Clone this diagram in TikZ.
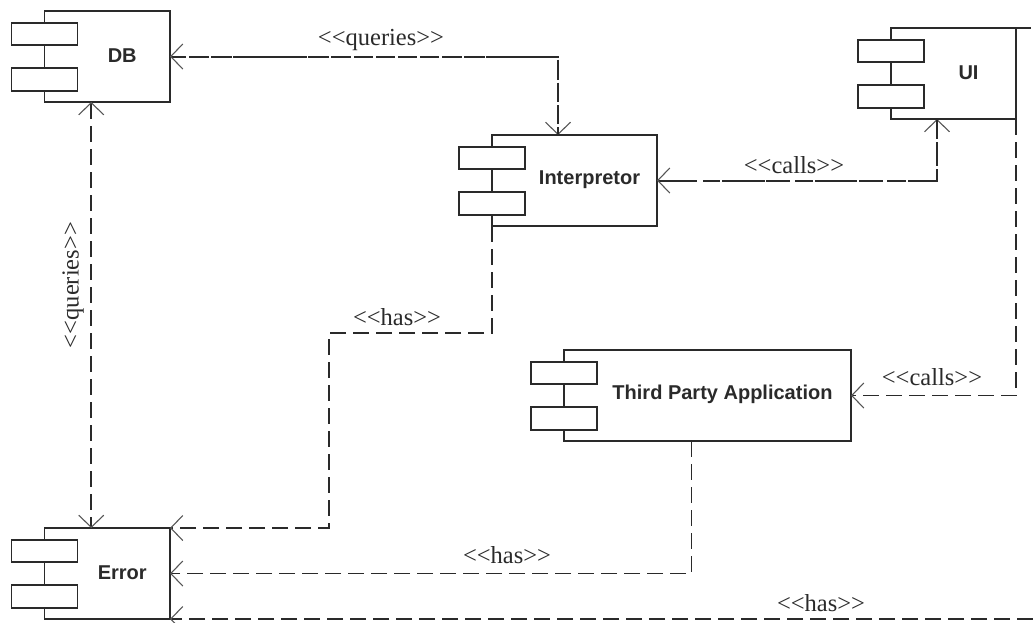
\documentclass[tikz,border=0pt]{standalone}
\usepackage{fontspec}
\usepackage{tikz}
\usetikzlibrary{positioning,calc,arrows.meta}
\newfontfamily\boxfont{Liberation Sans}
\newfontfamily\stereofont{Liberation Serif}
\definecolor{ink}{HTML}{2A2A2A}
\definecolor{softink}{HTML}{555555}
\tikzset{
  barb/.tip = {Straight Barb[length=12pt,width=25pt,line width=1.1pt,color=softink]},
  % --- nodes
  comp/.style    = {rectangle, draw=ink, fill=white, line width=1.7pt, outer sep=0pt,
                    minimum height=91pt, anchor=north west},
  comptab/.style = {comp, minimum width=66pt, minimum height=22.5pt, anchor=center},
  complbl/.style = {font=\boxfont\bfseries\fontsize{20}{23}\selectfont, text=ink, inner sep=0pt},
  stereo/.style  = {font=\stereofont\fontsize{24.5}{28}\selectfont, text=ink, inner sep=0pt},
  % --- edges
  e/.style  = {draw=ink, line width=1.7pt, dash pattern=on 16pt off 7pt, -barb},
  e2/.style = {e, barb-barb},
}
\begin{document}
\begin{tikzpicture}[x=1pt,y=-1pt]
  \useasboundingbox (0,0) rectangle (1033,622);

  \foreach \nm/\x/\y/\w/\txt in {db/44.5/11/125.5/DB, err/44.5/528/125.5/Error,
      interp/492/135/165/Interpretor, ui/891/28/125/UI,
      app/564/350/287/Third Party Application} {
    \node[comp, minimum width=\w pt] (\nm) at (\x,\y) {};
    \node[comptab] (\nm-a) at ($(\nm.north west)+(0,23)$) {};
    \node[comptab] (\nm-b) at ($(\nm.south west)+(0,-22.5)$) {};
    \node[complbl] (\nm-t) at ($(\nm-a.east |- \nm.center)!.5!(\nm.east)+(-1.5,-1)$) {\txt};
  }

  \coordinate (uiend) at (1031,28);
  \coordinate (edge) at (1033,619);
  \draw[ink,line width=1.2pt] (ui.north east) -- (uiend);

  % two relations run over each other here
  \draw[e,line width=2pt] (db.east) -| ([xshift=-16.5pt]interp.north);
  \draw[e,line width=2pt,dash pattern=on 8pt off 3pt] ([xshift=-16.5pt]interp.north) |- (db.east);
  \draw[e,line width=2pt] (interp.east) -| ([xshift=-16.5pt]ui.south);
  \draw[e,line width=2pt,dash pattern=on 16pt off 7pt on 6pt off 2pt] ([xshift=-16.5pt]ui.south) |- (interp.east);

  \draw[e2] ([xshift=-16pt]db.south) -- ([xshift=-16pt]err.north);
  \draw[e] (interp.south west) |- (329,333) |- (err.north east);
  \draw[e] (ui.south east) |- (app.east);
  \draw[e] ([xshift=-16pt]app.south) |- (err.east);
  \draw[e] (edge) -- (err.south east);

  \node[stereo] (qa) at (381,40) {<<queries>>};
  \node[stereo,rotate=90] (qb) at (73,285) {<<queries>>};
  \node[stereo] (ca) at (794,165) {<<calls>>};
  \node[stereo] (cb) at (932,377) {<<calls>>};
  \node[stereo] (ha) at (397,317) {<<has>>};
  \node[stereo] (hb) at (507,555) {<<has>>};
  \node[stereo] (hc) at (821,603) {<<has>>};
\end{tikzpicture}
\end{document}
